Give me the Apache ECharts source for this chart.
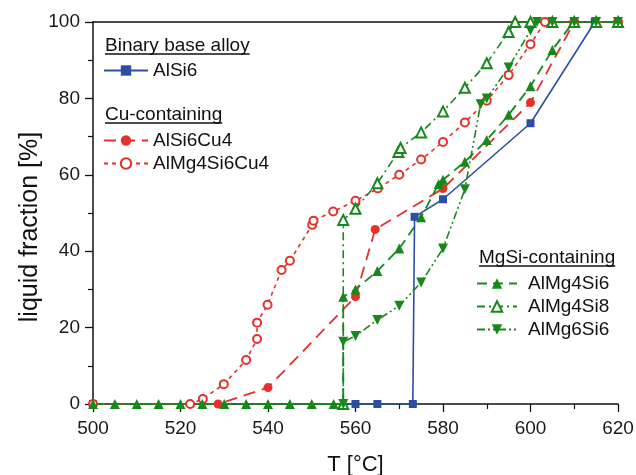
<!DOCTYPE html>
<html>
<head>
<meta charset="utf-8">
<script src="https://cdn.jsdelivr.net/npm/echarts@6/dist/echarts.min.js"></script>
<style>
  html, body { margin: 0; padding: 0; background: #fff; }
  #chart { width: 636px; height: 475px; }
</style>
</head>
<body>
<div id="chart"></div>
<script>
// Liquid fraction versus temperature for several Al alloys
const FONT = 'Liberation Sans, Arial, sans-serif';

const xTicks = [500, 520, 540, 560, 580, 600, 620];
const yTicks = [0, 20, 40, 60, 80, 100];

// Binary base alloy
const tAlSi6 = [500, 560, 565, 573.1, 573.5, 580, 600, 614.7, 620];
const fAlSi6 = [0, 0, 0, 0, 49.0, 53.6, 73.5, 100, 100];

// Cu-containing
const tAlSi6Cu4 = [500, 528.6, 540, 560, 564.5, 580, 600, 610, 620];
const fAlSi6Cu4 = [0, 0, 4.3, 28.1, 45.7, 56.4, 78.9, 100, 100];

const tAlMg4Si6Cu4 = [500, 522.2, 525.1, 529.9, 535, 537.5, 537.5, 539.9, 543.1, 545, 550.1, 550.4, 554.9, 560, 565.1, 570, 575, 580, 585, 590, 595, 600, 603.3, 610, 620];
const fAlMg4Si6Cu4 = [0, 0, 1.3, 5.2, 11.5, 17.0, 21.3, 26.0, 35.1, 37.5, 46.9, 48.0, 50.4, 53.2, 56.4, 60.0, 64.0, 68.6, 73.7, 79.4, 86.1, 94.2, 100, 100, 100];

// MgSi-containing
const tAlMg4Si6 = [500, 505, 510, 515, 520, 525, 530, 535, 540, 545, 550, 555, 557.2, 557.2, 560, 565, 570, 575, 579, 580, 585, 590, 595, 600, 605, 609.8, 615, 620];
const fAlMg4Si6 = [0, 0, 0, 0, 0, 0, 0, 0, 0, 0, 0, 0, 0, 28.1, 30.0, 34.8, 40.7, 48.9, 57.6, 58.7, 63.4, 69.1, 75.7, 83.2, 92.7, 100, 100, 100];

const tAlMg4Si8 = [500, 557.2, 557.2, 560, 565, 569.8, 570.3, 575, 580, 585, 590, 595, 596.5, 600, 605, 610, 615, 620];
const fAlMg4Si8 = [0, 0, 48.2, 51.1, 57.8, 66.0, 67.0, 71.1, 76.6, 82.8, 89.2, 97.4, 100, 100, 100, 100, 100, 100];

const tAlMg6Si6 = [500, 557.2, 557.2, 560, 565, 570, 575, 580, 585, 588.6, 590, 595, 600, 601.5, 605, 610, 615, 620];
const fAlMg6Si6 = [0, 0, 16.3, 17.8, 22.0, 25.7, 31.8, 40.7, 56.2, 78.5, 80.0, 88.1, 97.8, 100, 100, 100, 100, 100];

const BLUE = '#2d4ea6';
const RED = '#e4312b';
const GREEN = '#17881b';

function pairs(t, f, hideFirst) {
  return t.map((x, i) => {
    const v = [x, f[i]];
    return (hideFirst && i === 0) ? { value: v, symbol: 'none' } : v;
  });
}

function textWidth(s, size) {
  const c = document.createElement('canvas').getContext('2d');
  c.font = size + 'px ' + FONT;
  return c.measureText(s).width;
}

function header(text, x, y) {
  const w = textWidth(text, 19);
  return [
    { type: 'text', left: x, top: y - 10, z: 10,
      style: { text: text, font: '19px ' + FONT, fill: '#111' } },
    { type: 'line', z: 10,
      shape: { x1: x, y1: y + 8, x2: x + w, y2: y + 8 },
      style: { stroke: '#111', lineWidth: 1.3 } }
  ];
}

const chart = echarts.init(document.getElementById('chart'), null, { renderer: 'canvas' });

const axisText = { fontFamily: FONT, fontSize: 19, color: '#1a1a1a' };
const legendText = { fontFamily: FONT, fontSize: 19, color: '#111', lineHeight: 19 };

function legend(names, left, top, width, textPad) {
  return {
    data: names, left: left, top: top, padding: 0,
    orient: 'vertical', itemWidth: width, itemHeight: 13, itemGap: 4,
    selectedMode: false,
    textStyle: Object.assign({ padding: [0, 0, 0, textPad] }, legendText)
  };
}

chart.setOption({
  animation: false,
  backgroundColor: '#fff',
  grid: { left: 93, right: 18, top: 22, bottom: 71, outerBoundsMode: 'none', containLabel: false },
  xAxis: [{
    type: 'value', min: 500, max: 620, interval: 20,
    name: 'T [°C]', nameLocation: 'middle', nameGap: 50,
    nameTextStyle: { fontFamily: FONT, fontSize: 22, color: '#111' },
    axisLine: { show: true, onZero: false, lineStyle: { color: '#111', width: 1.5 } },
    axisTick: { show: true, length: 8, lineStyle: { color: '#111', width: 1.3 } },
    minorTick: { show: true, splitNumber: 2, length: 5, lineStyle: { color: '#111', width: 1.2 } },
    splitLine: { show: false },
    axisLabel: Object.assign({ margin: 15,
      formatter: v => xTicks.includes(v) ? String(v) : '' }, axisText)
  }, {
    type: 'value', position: 'top', min: 500, max: 620,
    axisLine: { show: true, onZero: false, lineStyle: { color: '#111', width: 1.5 } },
    axisTick: { show: false }, axisLabel: { show: false }, splitLine: { show: false }
  }],
  yAxis: {
    type: 'value', min: 0, max: 100, interval: 20,
    axisLine: { show: true, onZero: false, lineStyle: { color: '#111', width: 1.5 } },
    axisTick: { show: true, length: 8, lineStyle: { color: '#111', width: 1.3 } },
    minorTick: { show: true, splitNumber: 2, length: 5, lineStyle: { color: '#111', width: 1.2 } },
    splitLine: { show: false },
    axisLabel: Object.assign({ margin: 13,
      formatter: v => yTicks.includes(v) ? String(v) : '' }, axisText)
  },
  legend: [
    legend(['AlSi6'], 103, 61, 44, 0),
    legend(['AlSi6Cu4', 'AlMg4Si6Cu4'], 103, 131, 44, 0),
    legend(['AlMg4Si6', 'AlMg4Si8', 'AlMg6Si6'], 476, 274, 40, 6)
  ],
  graphic: [].concat(
    header('Binary base alloy', 105, 46),
    header('Cu-containing', 105, 115),
    header('MgSi-containing', 479, 258),
    [{ type: 'text', x: 30, y: 227, rotation: Math.PI / 2, z: 10,
       style: { text: 'liquid fraction [%]', font: '25px ' + FONT, fill: '#111',
                align: 'center', verticalAlign: 'middle' } }]
  ),
  series: [
    { name: 'AlSi6', type: 'line', data: pairs(tAlSi6, fAlSi6),
      color: BLUE, symbol: 'rect', symbolSize: 8,
      lineStyle: { color: BLUE, width: 1.6, type: 'solid' },
      itemStyle: { color: BLUE } },
    { name: 'AlSi6Cu4', type: 'line', data: pairs(tAlSi6Cu4, fAlSi6Cu4),
      color: RED, symbol: 'circle', symbolSize: 9,
      lineStyle: { color: RED, width: 1.8, type: [12, 7] },
      itemStyle: { color: RED } },
    { name: 'AlMg4Si6Cu4', type: 'line', data: pairs(tAlMg4Si6Cu4, fAlMg4Si6Cu4),
      color: RED, symbol: 'emptyCircle', symbolSize: 8,
      lineStyle: { color: RED, width: 1.6, type: [4, 4] },
      itemStyle: { color: RED, borderColor: RED, borderWidth: 1.1 } },
    { name: 'AlMg4Si6', type: 'line', data: pairs(tAlMg4Si6, fAlMg4Si6),
      color: GREEN, symbol: 'triangle', symbolSize: 10,
      lineStyle: { color: GREEN, width: 1.8, type: [10, 6] },
      itemStyle: { color: GREEN } },
    { name: 'AlMg4Si8', type: 'line', data: pairs(tAlMg4Si8, fAlMg4Si8, true),
      color: GREEN, symbol: 'emptyTriangle', symbolSize: 10,
      lineStyle: { color: GREEN, width: 1.6, type: [8, 4, 2, 4] },
      itemStyle: { color: GREEN, borderColor: GREEN, borderWidth: 1.1 } },
    { name: 'AlMg6Si6', type: 'line', data: pairs(tAlMg6Si6, fAlMg6Si6, true),
      color: GREEN, symbol: 'triangle', symbolRotate: 180, symbolSize: 10,
      lineStyle: { color: GREEN, width: 1.6, type: [8, 3, 2, 3, 2, 3] },
      itemStyle: { color: GREEN } }
  ]
});
</script>
</body>
</html>
